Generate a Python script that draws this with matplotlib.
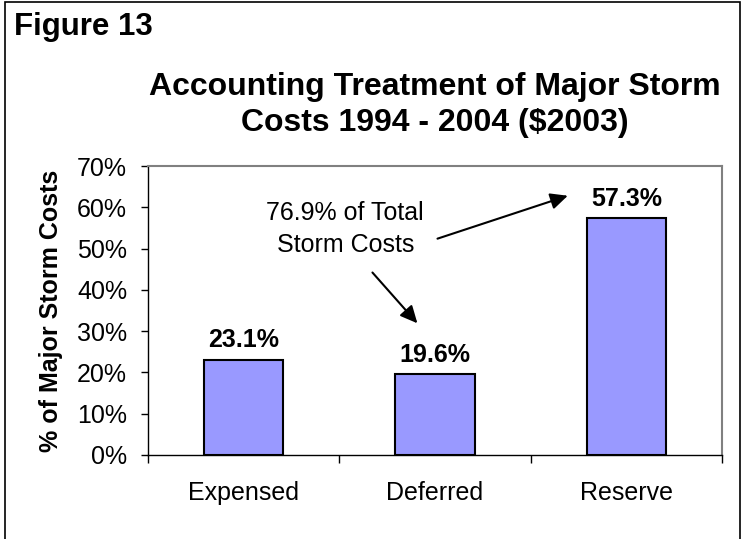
import matplotlib.pyplot as plt
from matplotlib.patches import Rectangle

plt.rcParams['font.family'] = ['Liberation Sans', 'DejaVu Sans']

categories = ["Expensed", "Deferred", "Reserve"]
shares = [23.1, 19.6, 57.3]
value_labels = ["23.1%", "19.6%", "57.3%"]
y_ticks = [0, 10, 20, 30, 40, 50, 60, 70]
y_tick_labels = ["0%", "10%", "20%", "30%", "40%", "50%", "60%", "70%"]
note = "76.9% of Total\nStorm Costs"

W, H = 743, 539
fig = plt.figure(figsize=(W / 100, H / 100), dpi=100)
ax = fig.add_axes([148 / W, 1 - 455 / H, (722 - 148) / W, (455 - 166) / H])

x = list(range(len(categories)))
ax.bar(x, shares, width=0.414, color="#9999FF", edgecolor="black", linewidth=1.5, zorder=3)

for xi, v, lab in zip(x, shares, value_labels):
    ax.annotate(lab, (xi, v), xytext=(0, 9), textcoords="offset points",
                ha="center", va="baseline", fontsize=18, fontweight="bold")

ax.set_xlim(-0.5, 2.5)
ax.set_ylim(0, 70)
ax.set_yticks(y_ticks)
ax.set_yticklabels(y_tick_labels, fontsize=18)
ax.tick_params(axis="y", direction="out", length=5, width=1, pad=10)

ax.set_xticks(x)
ax.set_xticklabels(categories, fontsize=18)
ax.set_xticks([-0.5, 0.5, 1.5, 2.5], minor=True)
ax.tick_params(axis="x", which="major", length=0, pad=19)
ax.tick_params(axis="x", which="minor", direction="out", length=6, width=1)

for side in ["top", "right"]:
    ax.spines[side].set_color("#808080")
    ax.spines[side].set_linewidth(1.5)
for side in ["left", "bottom"]:
    ax.spines[side].set_color("black")
    ax.spines[side].set_linewidth(1)

ax.set_ylabel("% of Major Storm Costs", fontsize=18, fontweight="bold")
ax.yaxis.set_label_coords(-0.148, 0.5)

# callout text with two arrows
ax.text(0.531, 61.5, note, ha="center", va="top", fontsize=18, linespacing=1.4)
arrow = dict(arrowstyle="-|>,head_length=0.8,head_width=0.38", color="black",
             lw=1.5, mutation_scale=13, shrinkA=0, shrinkB=0)
ax.annotate("", xy=(0.908, 31.9), xytext=(0.673, 44.2), arrowprops=arrow)
ax.annotate("", xy=(1.694, 62.8), xytext=(1.013, 52.4), arrowprops=arrow)

fig.text(14 / W, 1 - 35 / H, "Figure 13", fontsize=22.5, fontweight="bold", va="baseline")
fig.text(435 / W, 1 - 72 / H, "Accounting Treatment of Major Storm\nCosts 1994 - 2004 ($2003)",
         ha="center", va="top", fontsize=23, fontweight="bold", linespacing=1.25)

fig.add_artist(Rectangle((5 / W, -0.1), (740 - 5) / W, 1.1 - 2 / H, transform=fig.transFigure,
                         fill=False, edgecolor="black", linewidth=1.2))

fig.savefig("out.png", dpi=100)
